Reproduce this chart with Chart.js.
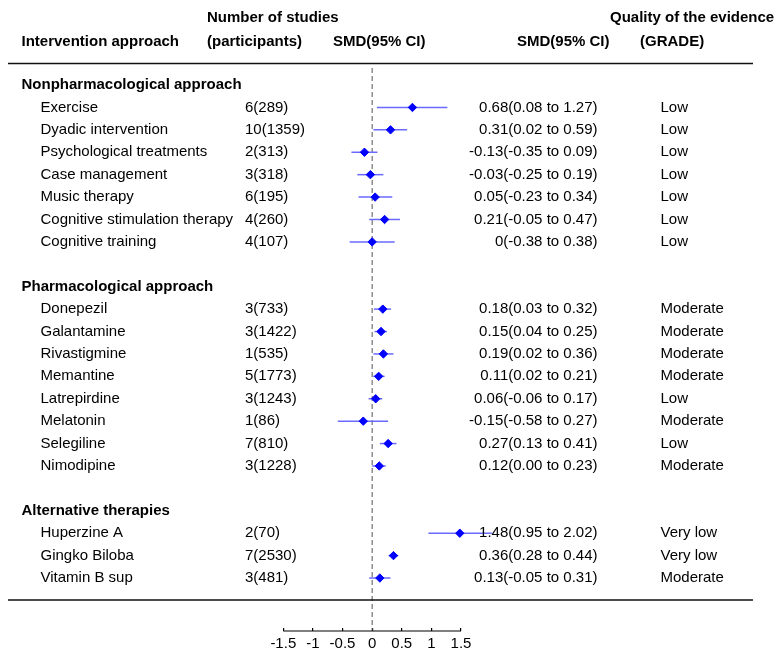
<!DOCTYPE html>
<html lang="en">
<head>
    <meta charset="UTF-8">
    <title>Forest plot - SMD by intervention</title>
    <script src="https://cdn.jsdelivr.net/npm/chart.js"></script>
    <style>
        html, body {
            margin: 0;
            padding: 0;
            background: #fff;
        }
        canvas { display: block; }
    </style>
</head>
<body>
    <canvas id="forest" width="779" height="650" style="width:779px;height:650px"></canvas>

    <script>
        // ---- data ----
        const sections = ['Nonpharmacological approach', 'Pharmacological approach', 'Alternative therapies'];
        const sectionRows = [0, 9, 19];

        const interventions = [
            'Exercise', 'Dyadic intervention', 'Psychological treatments', 'Case management',
            'Music therapy', 'Cognitive stimulation therapy', 'Cognitive training',
            'Donepezil', 'Galantamine', 'Rivastigmine', 'Memantine', 'Latrepirdine',
            'Melatonin', 'Selegiline', 'Nimodipine',
            'Huperzine A', 'Gingko Biloba', 'Vitamin B sup'
        ];
        const rows = [1, 2, 3, 4, 5, 6, 7, 10, 11, 12, 13, 14, 15, 16, 17, 20, 21, 22];
        const studies = [
            '6(289)', '10(1359)', '2(313)', '3(318)', '6(195)', '4(260)', '4(107)',
            '3(733)', '3(1422)', '1(535)', '5(1773)', '3(1243)', '1(86)', '7(810)', '3(1228)',
            '2(70)', '7(2530)', '3(481)'
        ];
        const smd   = [0.68, 0.31, -0.13, -0.03, 0.05, 0.21, 0, 0.18, 0.15, 0.19, 0.11, 0.06, -0.15, 0.27, 0.12, 1.48, 0.36, 0.13];
        const lower = [0.08, 0.02, -0.35, -0.25, -0.23, -0.05, -0.38, 0.03, 0.04, 0.02, 0.02, -0.06, -0.58, 0.13, 0.00, 0.95, 0.28, -0.05];
        const upper = [1.27, 0.59, 0.09, 0.19, 0.34, 0.47, 0.38, 0.32, 0.25, 0.36, 0.21, 0.17, 0.27, 0.41, 0.23, 2.02, 0.44, 0.31];
        const smdText = [
            '0.68(0.08 to 1.27)', '0.31(0.02 to 0.59)', '-0.13(-0.35 to 0.09)', '-0.03(-0.25 to 0.19)',
            '0.05(-0.23 to 0.34)', '0.21(-0.05 to 0.47)', '0(-0.38 to 0.38)',
            '0.18(0.03 to 0.32)', '0.15(0.04 to 0.25)', '0.19(0.02 to 0.36)', '0.11(0.02 to 0.21)',
            '0.06(-0.06 to 0.17)', '-0.15(-0.58 to 0.27)', '0.27(0.13 to 0.41)', '0.12(0.00 to 0.23)',
            '1.48(0.95 to 2.02)', '0.36(0.28 to 0.44)', '0.13(-0.05 to 0.31)'
        ];
        const grades = [
            'Low', 'Low', 'Low', 'Low', 'Low', 'Low', 'Low',
            'Moderate', 'Moderate', 'Moderate', 'Moderate', 'Low', 'Moderate', 'Low', 'Moderate',
            'Very low', 'Very low', 'Moderate'
        ];
        const xTicks = [-1.5, -1, -0.5, 0, 0.5, 1, 1.5];

        const FONT = '"Liberation Sans", Arial, Helvetica, sans-serif';
        Chart.defaults.font.family = FONT;

        // CI whiskers, zero line, axis line and all table text
        const forestPlugin = {
            id: 'forest',
            beforeDatasetsDraw(chart) {
                const { ctx, chartArea, scales: { x, y } } = chart;
                ctx.save();

                // reference line at 0
                ctx.strokeStyle = '#555';
                ctx.lineWidth = 1;
                ctx.setLineDash([5, 3]);
                ctx.beginPath();
                ctx.moveTo(x.getPixelForValue(0), chartArea.top);
                ctx.lineTo(x.getPixelForValue(0), chartArea.bottom + 3);
                ctx.stroke();
                ctx.setLineDash([]);

                // confidence intervals
                ctx.strokeStyle = '#6a6aff';
                ctx.lineWidth = 1.5;
                rows.forEach((r, i) => {
                    const py = y.getPixelForValue(r);
                    ctx.beginPath();
                    ctx.moveTo(x.getPixelForValue(lower[i]), py);
                    ctx.lineTo(x.getPixelForValue(upper[i]), py);
                    ctx.stroke();
                });
                ctx.restore();
            },
            afterDraw(chart) {
                const { ctx, chartArea, scales: { x, y } } = chart;
                ctx.save();

                // axis baseline
                ctx.strokeStyle = '#000';
                ctx.lineWidth = 1.2;
                ctx.beginPath();
                ctx.moveTo(x.getPixelForValue(xTicks[0]), chartArea.bottom + 3);
                ctx.lineTo(x.getPixelForValue(xTicks[xTicks.length - 1]), chartArea.bottom + 3);
                ctx.stroke();

                // table rules
                ctx.lineWidth = 1.6;
                ctx.strokeStyle = '#111';
                [63.5, 600].forEach(ry => {
                    ctx.beginPath();
                    ctx.moveTo(8, ry);
                    ctx.lineTo(753, ry);
                    ctx.stroke();
                });

                ctx.fillStyle = '#000';
                ctx.textBaseline = 'middle';

                // column headers
                ctx.font = 'bold 15px ' + FONT;
                ctx.textAlign = 'left';
                ctx.fillText('Number of studies', 207, 18);
                ctx.fillText('Quality of the evidence', 610, 18);
                ctx.fillText('Intervention approach', 21.5, 41.5);
                ctx.fillText('(participants)', 207, 41.5);
                ctx.fillText('SMD(95% CI)', 333, 41.5);
                ctx.fillText('SMD(95% CI)', 517, 41.5);
                ctx.fillText('(GRADE)', 640, 41.5);

                // section headers
                sections.forEach((s, i) => {
                    ctx.fillText(s, 21.5, y.getPixelForValue(sectionRows[i]));
                });

                // rows
                ctx.font = '15px ' + FONT;
                rows.forEach((r, i) => {
                    const py = y.getPixelForValue(r);
                    ctx.textAlign = 'left';
                    ctx.fillText(interventions[i], 40.5, py);
                    ctx.fillText(studies[i], 245, py);
                    ctx.fillText(grades[i], 660.5, py);
                    ctx.textAlign = 'right';
                    ctx.fillText(smdText[i], 597.5, py);
                });
                ctx.restore();
            }
        };

        const ctx = document.getElementById('forest').getContext('2d');
        new Chart(ctx, {
            type: 'scatter',
            data: {
                datasets: [{
                    data: rows.map((r, i) => ({ x: smd[i], y: r })),
                    pointStyle: 'rectRot',
                    pointRadius: 4.2,
                    backgroundColor: '#0000ff',
                    borderColor: '#0000ff',
                    borderWidth: 1,
                    clip: false
                }]
            },
            options: {
                responsive: false,
                animation: false,
                devicePixelRatio: 1,
                layout: { padding: { left: 283.3, right: 318, top: 68, bottom: 0 } },
                plugins: {
                    legend: { display: false },
                    tooltip: { enabled: false }
                },
                scales: {
                    x: {
                        type: 'linear',
                        min: xTicks[0],
                        max: xTicks[xTicks.length - 1],
                        afterBuildTicks: s => { s.ticks = xTicks.map(v => ({ value: v })); },
                        afterFit: s => { s.height = 22; },
                        border: { display: false },
                        grid: {
                            drawOnChartArea: false,
                            drawTicks: true,
                            tickLength: 3,
                            color: '#000',
                            lineWidth: 1.2
                        },
                        ticks: {
                            color: '#000',
                            font: { size: 15 },
                            padding: 4,
                            autoSkip: false,
                            maxRotation: 0,
                            callback: v => String(v)
                        }
                    },
                    y: {
                        type: 'linear',
                        reverse: true,
                        min: -0.76,
                        max: 24.23,
                        display: false
                    }
                }
            },
            plugins: [forestPlugin]
        });
    </script>
</body>
</html>
